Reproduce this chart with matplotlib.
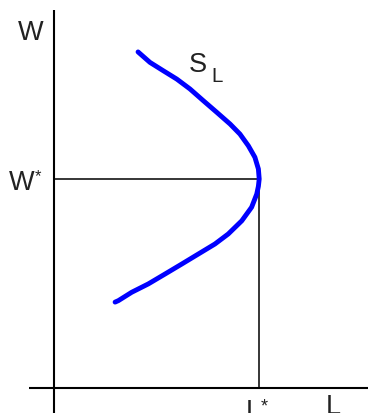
import matplotlib
matplotlib.use("Agg")
import matplotlib.pyplot as plt

# Backward-bending labour supply curve (L, W)
supply_L = [4.10, 4.68, 5.33, 5.99, 6.63, 7.28, 7.94, 8.59, 9.07, 9.48, 9.80,
            9.97, 10.01, 9.97, 9.89, 9.64, 9.16, 8.50, 7.85, 7.04, 6.23, 5.41,
            4.60, 3.79, 3.14, 2.98]
supply_W = [16.08, 15.58, 15.18, 14.78, 14.31, 13.75, 13.19, 12.63, 12.15, 11.59,
            11.04, 10.48, 10.00, 9.65, 9.28, 8.65, 8.00, 7.37, 6.89, 6.41, 5.93,
            5.45, 4.98, 4.58, 4.18, 4.11]
L_star = 10.0
W_star = 10.0
axis_labels = {"y": "W", "x": "L"}
curve_label = ("S", "L")

fig = plt.figure(figsize=(3.68, 4.14), dpi=100)
ax = fig.add_axes([0, 0, 1, 1])
ax.set_xlim(-54 / 20.5, (368 - 54) / 20.5)
ax.set_ylim(-25 / 20.9, 389 / 20.9)
ax.axis("off")

font = "Liberation Sans"
tc = "#222222"

# axes
ax.plot([0, 0], [-2, 18.09], color="black", lw=1.5, solid_capstyle="butt")
ax.plot([-1.22, 16], [0, 0], color="black", lw=1.5, solid_capstyle="butt")

# guide lines
ax.plot([0, L_star], [W_star, W_star], color="black", lw=1.1, solid_capstyle="butt")
ax.plot([L_star, L_star], [0, W_star], color="black", lw=1.1, solid_capstyle="butt")

# supply curve
ax.plot(supply_L, supply_W, color="#0000ff", lw=3.5, solid_joinstyle="round",
        solid_capstyle="round")

# labels
ax.text(-1.12, 17.03, axis_labels["y"], fontsize=19.5, family=font,
        ha="center", va="center", color=tc)
ax.text(-1.56, 9.86, "W", fontsize=19.5, family=font,
        ha="center", va="center", color=tc)
ax.text(-0.78, 10.15, "*", fontsize=12, family=font,
        ha="center", va="center", color=tc)
ax.text((326 - 54) / 20.5, (389 - 394) / 20.9, axis_labels["x"], fontsize=19.5,
        family=font, ha="left", va="top", color=tc)
ax.text((246 - 54) / 20.5, (389 - 399) / 20.9, "L", fontsize=19.5,
        family=font, ha="left", va="top", color=tc)
ax.text((264 - 54) / 20.5, (389 - 398) / 20.9, "*", fontsize=13,
        family=font, ha="center", va="top", color=tc)
ax.text((189 - 54) / 20.5, (389 - 65) / 20.9, curve_label[0], fontsize=19.5,
        family=font, ha="left", va="center", color=tc)
ax.text((211 - 54) / 20.5, (389 - 77) / 20.9, curve_label[1], fontsize=14.8,
        family=font, ha="left", va="center", color=tc)

fig.savefig("out.png", dpi=100)
